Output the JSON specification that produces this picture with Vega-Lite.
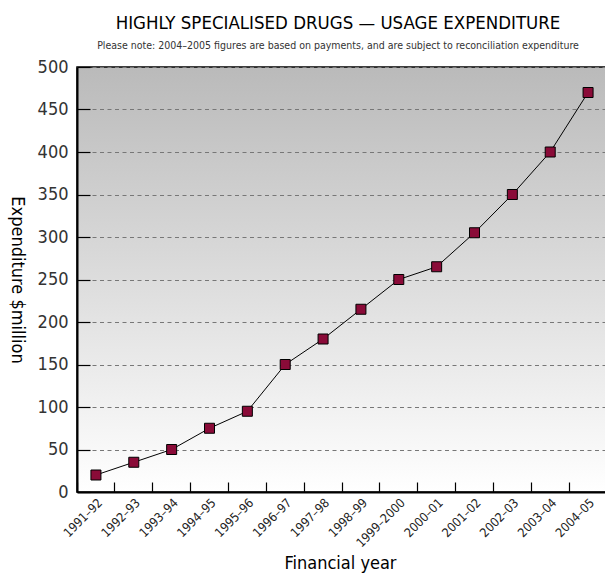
{
  "$schema": "https://vega.github.io/schema/vega-lite/v6.json",
  "autosize": "none",
  "width": 530,
  "height": 425,
  "padding": {"left": 77, "top": 67, "right": 0, "bottom": 84},
  "background": "white",
  "title": {
    "text": "HIGHLY SPECIALISED DRUGS — USAGE EXPENDITURE",
    "subtitle": "Please note: 2004–2005 figures are based on payments, and are subject to reconciliation expenditure",
    "anchor": "middle",
    "frame": "group",
    "font": "DejaVu Sans Condensed, DejaVu Sans, sans-serif",
    "fontSize": 18.5,
    "fontWeight": "normal",
    "color": "black",
    "subtitleFont": "DejaVu Sans Condensed, DejaVu Sans, sans-serif",
    "subtitleFontSize": 10.5,
    "subtitleColor": "#333333",
    "subtitlePadding": 8,
    "offset": 7,
    "dx": -4
  },
  "data": {
    "values": [
      {"year": "1991–92", "value": 20},
      {"year": "1992–93", "value": 35},
      {"year": "1993–94", "value": 50},
      {"year": "1994–95", "value": 75},
      {"year": "1995–96", "value": 95},
      {"year": "1996–97", "value": 150},
      {"year": "1997–98", "value": 180},
      {"year": "1998–99", "value": 215},
      {"year": "1999–2000", "value": 250},
      {"year": "2000–01", "value": 265},
      {"year": "2001–02", "value": 305},
      {"year": "2002–03", "value": 350},
      {"year": "2003–04", "value": 400},
      {"year": "2004–05", "value": 470}
    ]
  },
  "encoding": {
    "x": {
      "field": "year",
      "type": "ordinal",
      "sort": null,
      "scale": {"type": "band", "paddingInner": 0, "paddingOuter": 0},
      "axis": {
        "title": "Financial year",
        "titleFont": "DejaVu Sans Condensed, DejaVu Sans, sans-serif",
        "titleFontSize": 18,
        "titleFontWeight": "normal",
        "titleColor": "black",
        "titlePadding": 5,
        "titleX": 263,
        "labelFont": "DejaVu Sans Condensed, DejaVu Sans, sans-serif",
        "labelFontSize": 12.5,
        "labelColor": "#222222",
        "labelAngle": -45,
        "labelPadding": 14,
        "bandPosition": 0,
        "tickSize": -10,
        "tickColor": "black",
        "tickWidth": 1.2,
        "domainColor": "black",
        "domainWidth": 2,
        "grid": false
      }
    },
    "y": {
      "field": "value",
      "type": "quantitative",
      "scale": {"domain": [0, 500], "nice": false},
      "axis": {
        "title": "Expenditure $million",
        "titleAngle": 90,
        "titleFont": "DejaVu Sans Condensed, DejaVu Sans, sans-serif",
        "titleFontSize": 18,
        "titleFontWeight": "normal",
        "titleColor": "black",
        "titlePadding": 30,
        "labelFont": "DejaVu Sans Condensed, DejaVu Sans, sans-serif",
        "labelFontSize": 18,
        "labelColor": "#333333",
        "labelPadding": 22,
        "values": [0, 50, 100, 150, 200, 250, 300, 350, 400, 450, 500],
        "tickSize": -13,
        "tickColor": "black",
        "tickWidth": 1.2,
        "domainColor": "black",
        "domainWidth": 2,
        "grid": true,
        "gridDash": [4, 3.5],
        "gridColor": "#777777",
        "gridWidth": 1
      }
    }
  },
  "layer": [
    {"mark": {"type": "line", "color": "black", "strokeWidth": 1}},
    {"mark": {"type": "point", "shape": "square", "size": 100, "filled": true, "fill": "#8a0b38", "stroke": "black", "strokeWidth": 1, "opacity": 1}}
  ],
  "config": {
    "view": {
      "stroke": "black",
      "strokeWidth": 1.5,
      "fill": {
        "gradient": "linear",
        "x1": 0, "y1": 0, "x2": 0, "y2": 1,
        "stops": [
          {"offset": 0, "color": "#bababa"},
          {"offset": 1, "color": "#ffffff"}
        ]
      }
    }
  }
}
